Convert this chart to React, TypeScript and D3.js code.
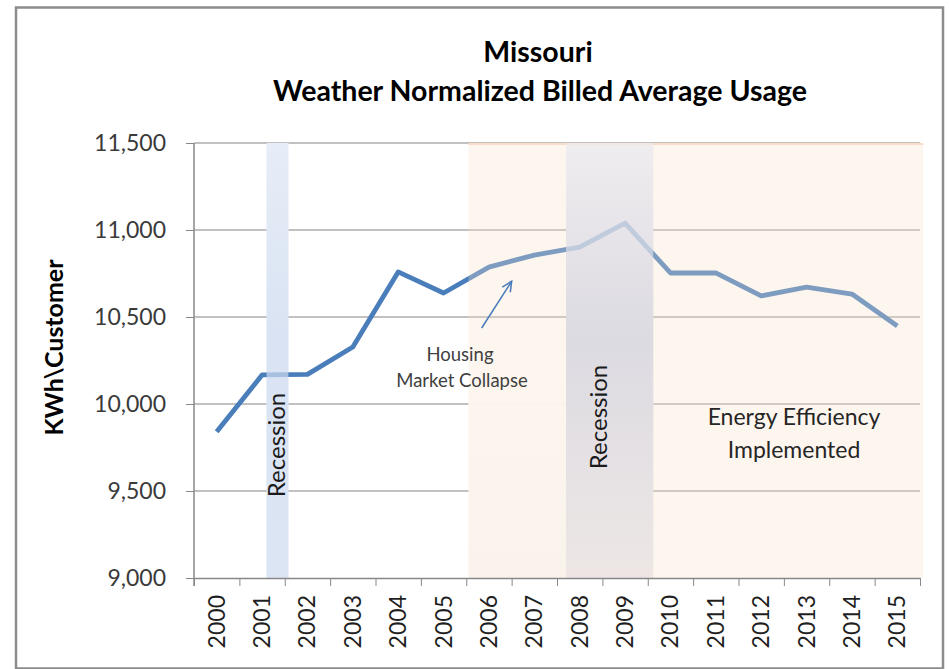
import React, { useEffect, useRef } from 'react';
import * as d3 from 'd3';

const WIDTH = 949;
const HEIGHT = 669;
const PLOT = { left: 194, right: 920, top: 143, bottom: 578 };
const FONT = 'Lato, "Open Sans", sans-serif';

const years = ['2000', '2001', '2002', '2003', '2004', '2005', '2006', '2007',
    '2008', '2009', '2010', '2011', '2012', '2013', '2014', '2015'];
const usage = [9840, 10167, 10170, 10328, 10759, 10638, 10787, 10856,
    10902, 11040, 10753, 10753, 10621, 10672, 10632, 10448];
const yTicks = [9000, 9500, 10000, 10500, 11000, 11500];

// shaded periods, in fractional years on the same axis as the points
const recessions = [
    { start: 2001.1, end: 2001.58, label: 'Recession', top: '#e7edf7', mid: '#d9e3f3', bot: '#dce5f4' },
    { start: 2007.7, end: 2009.62, label: 'Recession', top: '#eeeef3', mid: '#d9dae5', bot: '#ece7e8' },
];
const efficiency = { start: 2005.55, end: 2015.57 };
const housing = { start: 2005.55, end: 2007.7 };
const housingArrow = { from: [2005.84, 10437], to: [2006.5, 10705] };

export default function App() {
    const svgRef = useRef<SVGSVGElement>(null);

    useEffect(() => {
        if (!svgRef.current) return;
        const svg = d3.select(svgRef.current);
        svg.selectAll('*').remove();

        const x = d3.scaleBand().domain(years).range([PLOT.left, PLOT.right]).padding(0);
        const y = d3.scaleLinear().domain([9000, 11500]).range([PLOT.bottom, PLOT.top]);
        const x0 = x('2000')! + x.bandwidth() / 2;
        const xYear = (v: number) => x0 + (v - 2000) * x.step();
        const h = PLOT.bottom - PLOT.top;

        const defs = svg.append('defs');
        recessions.forEach((r, i) => {
            const g = defs.append('linearGradient').attr('id', `rec${i}`)
                .attr('x1', 0).attr('x2', 0).attr('y1', 0).attr('y2', 1);
            g.append('stop').attr('offset', '0%').attr('stop-color', r.top);
            g.append('stop').attr('offset', '45%').attr('stop-color', r.mid);
            g.append('stop').attr('offset', '100%').attr('stop-color', r.bot);
        });
        const hg = defs.append('linearGradient').attr('id', 'housingCover')
            .attr('x1', 0).attr('x2', 0).attr('y1', 0).attr('y2', 1);
        hg.append('stop').attr('offset', '0%').attr('stop-color', '#ffffff').attr('stop-opacity', 0);
        hg.append('stop').attr('offset', '42%').attr('stop-color', '#ffffff').attr('stop-opacity', 0);
        hg.append('stop').attr('offset', '55%').attr('stop-color', '#ffffff').attr('stop-opacity', 0.95);
        hg.append('stop').attr('offset', '100%').attr('stop-color', '#fbfbfb').attr('stop-opacity', 1);

        // frame
        svg.append('rect')
            .attr('x', 16).attr('y', 7.5).attr('width', 927).attr('height', 661)
            .attr('fill', '#fff').attr('stroke', '#8c8c8c').attr('stroke-width', 2.5);

        // gridlines
        svg.append('g').selectAll('line').data(yTicks.slice(1)).enter().append('line')
            .attr('x1', PLOT.left).attr('x2', PLOT.right)
            .attr('y1', d => y(d)).attr('y2', d => y(d))
            .attr('stroke', '#adadad').attr('stroke-width', 1.4);

        // opaque bases that hide the gridlines
        svg.append('rect')
            .attr('x', xYear(housing.start)).attr('y', PLOT.top)
            .attr('width', xYear(housing.end) - xYear(housing.start)).attr('height', h)
            .attr('fill', 'url(#housingCover)');
        recessions.forEach((r, i) => {
            svg.append('rect')
                .attr('x', xYear(r.start)).attr('y', PLOT.top)
                .attr('width', xYear(r.end) - xYear(r.start)).attr('height', h)
                .attr('fill', `url(#rec${i})`);
        });

        // series
        const line = d3.line<number>()
            .x((_, i) => x(years[i])! + x.bandwidth() / 2)
            .y(d => y(d));
        svg.append('path').datum(usage)
            .attr('d', line)
            .attr('fill', 'none')
            .attr('stroke', '#4a7ebb')
            .attr('stroke-width', 4.8)
            .attr('stroke-linejoin', 'round');

        // translucent overlays on top of the line
        svg.append('rect')
            .attr('x', xYear(efficiency.start)).attr('y', PLOT.top)
            .attr('width', xYear(efficiency.end) - xYear(efficiency.start)).attr('height', h)
            .attr('fill', '#f8e1ca').attr('opacity', 0.3);
        svg.append('line')
            .attr('x1', xYear(efficiency.start)).attr('x2', xYear(efficiency.end))
            .attr('y1', PLOT.top + 1).attr('y2', PLOT.top + 1)
            .attr('stroke', '#f7ddca').attr('stroke-width', 2);
        recessions.forEach((r, i) => {
            svg.append('rect')
                .attr('x', xYear(r.start)).attr('y', PLOT.top)
                .attr('width', xYear(r.end) - xYear(r.start)).attr('height', h)
                .attr('fill', `url(#rec${i})`).attr('opacity', 0.65);
        });

        // y axis
        const yAxis = svg.append('g')
            .attr('transform', `translate(${PLOT.left},0)`)
            .call(d3.axisLeft(y).tickValues(yTicks).tickFormat(d3.format(',')).tickSize(8).tickSizeOuter(0).tickPadding(20));
        yAxis.selectAll('line, path').attr('stroke', '#888');
        yAxis.select('.domain').attr('stroke-width', 1.5)
            .attr('d', `M0,${PLOT.top}V${PLOT.bottom + 8}`);
        yAxis.selectAll('text')
            .style('font-family', FONT).style('font-size', '23px').attr('fill', '#3a3a3a');

        // x axis: ticks on category boundaries, labels at band centres
        const bounds = d3.scaleLinear().domain([0, years.length]).range([PLOT.left, PLOT.right]);
        const xAxis = svg.append('g')
            .attr('transform', `translate(0,${PLOT.bottom})`)
            .call(d3.axisBottom(bounds).tickValues(d3.range(years.length + 1)).tickFormat(() => '').tickSize(8).tickSizeOuter(0));
        xAxis.selectAll('line, path').attr('stroke', '#888');
        xAxis.select('.domain').attr('stroke-width', 1.5);

        svg.append('g').selectAll('text').data(years).enter().append('text')
            .attr('transform', d => `translate(${x(d)! + x.bandwidth() / 2 + 8},${PLOT.bottom + 17}) rotate(-90)`)
            .attr('text-anchor', 'end')
            .text(d => d)
            .style('font-family', FONT).style('font-size', '23px').attr('fill', '#1f1f1f');

        // axis title
        svg.append('text')
            .attr('transform', `translate(63,${(PLOT.top + PLOT.bottom) / 2 - 13}) rotate(-90)`)
            .attr('text-anchor', 'middle')
            .text('KWh\\Customer')
            .style('font-family', FONT).style('font-size', '25px').style('font-weight', 700).attr('fill', '#000');

        // title
        const title = svg.append('g').style('font-family', FONT).style('font-size', '28.5px').style('font-weight', 700);
        title.append('text').attr('x', 538).attr('y', 62).attr('text-anchor', 'middle').text('Missouri');
        title.append('text').attr('x', 540).attr('y', 101).attr('text-anchor', 'middle').text('Weather Normalized Billed Average Usage');

        // recession labels
        const recLabel = [{ dx: 8, y: 445 }, { dx: -3, y: 417 }];
        recessions.forEach((r, i) => {
            svg.append('text')
                .attr('transform', `translate(${(xYear(r.start) + xYear(r.end)) / 2 + recLabel[i].dx},${recLabel[i].y}) rotate(-90)`)
                .attr('text-anchor', 'middle')
                .text(r.label)
                .style('font-family', FONT).style('font-size', '24px').attr('fill', '#1a1a1a');
        });

        // housing annotation
        const ax1 = xYear(housingArrow.from[0]), ay1 = y(housingArrow.from[1]);
        const ax2 = xYear(housingArrow.to[0]), ay2 = y(housingArrow.to[1]);
        const ang = Math.atan2(ay2 - ay1, ax2 - ax1);
        const head = 11, spread = 0.45;
        const arrow = svg.append('g').attr('stroke', '#4a7ebb').attr('stroke-width', 1.6).attr('fill', 'none');
        arrow.append('line').attr('x1', ax1).attr('y1', ay1).attr('x2', ax2).attr('y2', ay2);
        arrow.append('path').attr('d',
            `M${ax2 - head * Math.cos(ang - spread)},${ay2 - head * Math.sin(ang - spread)}L${ax2},${ay2}L${ax2 - head * Math.cos(ang + spread)},${ay2 - head * Math.sin(ang + spread)}`);

        const note = svg.append('g').style('font-family', FONT).style('font-size', '18.5px').attr('fill', '#404040').attr('text-anchor', 'middle');
        note.append('text').attr('x', 460).attr('y', 361).text('Housing');
        note.append('text').attr('x', 462).attr('y', 387).text('Market Collapse');

        const eff = svg.append('g').style('font-family', FONT).style('font-size', '23px').attr('fill', '#262626').attr('text-anchor', 'middle');
        eff.append('text').attr('x', 794).attr('y', 425).text('Energy Efficiency');
        eff.append('text').attr('x', 794).attr('y', 458).text('Implemented');
    }, []);

    return (
        <svg ref={svgRef} width={WIDTH} height={HEIGHT}
            style={{ position: 'absolute', left: 0, top: 0, display: 'block', background: '#fff' }} />
    );
}
